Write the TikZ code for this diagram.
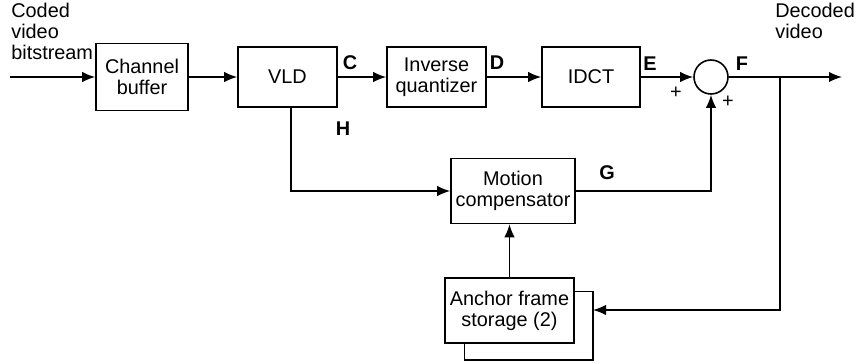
\documentclass[tikz,border=0pt]{standalone}
\usepackage{fontspec}
\setmainfont{Liberation Sans}
\usetikzlibrary{arrows.meta}

\tikzset{
  bloque/.style={draw, line width=0.9pt, minimum width=1.98cm, minimum height=1.2cm, align=center, inner sep=1pt},
  flecha/.style={-{Latex[length=2.6mm,width=2.1mm]}, line width=0.9pt},
  linea/.style={line width=0.9pt},
  letra/.style={font=\bfseries\fontsize{11.3}{12}\selectfont},
  signo/.style={font=\fontsize{11.3}{12}\selectfont, inner sep=0pt}
}

\begin{document}
\begin{tikzpicture}[font=\fontsize{11.3}{12}\selectfont]
        \useasboundingbox (0,0) rectangle (17.14,7.26);

        % Bloques de la cadena principal
        \node[bloque, minimum width=1.84cm, minimum height=1.34cm] (buffer) at (2.84,5.72) {Channel\\buffer};
        \node[bloque] (vld) at (5.75,5.72) {VLD};
        \node[bloque] (iq) at (8.73,5.72) {Inverse\\quantizer};
        \node[bloque, minimum width=1.96cm] (idct) at (11.82,5.72) {IDCT};
        \node[draw, line width=0.9pt, circle, minimum size=0.68cm, inner sep=0pt] (suma) at (14.22,5.72) {};

        % Compensador y memoria
        \node[bloque, minimum width=2.48cm, minimum height=1.3cm] (mc) at (10.26,3.44) {Motion\\compensator};
        \node[bloque, minimum width=2.58cm, minimum height=1.3cm] (anchor) at (10.19,1.05) {Anchor frame\\storage (2)};

        % Puntos auxiliares
        \coordinate (entrada) at (0.2,5.72);
        \coordinate (salida) at (16.84,5.72);
        \coordinate (rama) at (15.6,5.72);
        \coordinate (lazo) at (11.86,1.06);

        % Corriente de entrada y salida
        \draw[flecha] (entrada) -- (buffer);
        \node[anchor=north west, align=left, inner sep=0pt] (txtin) at (0.22,7.2) {Coded\\video\\bitstream};
        \draw[flecha] (suma) -- (salida);
        \node[anchor=north west, align=left, inner sep=0pt] (txtout) at (15.5,7.2) {Decoded\\video};

        % Cadena principal
        \draw[flecha] (buffer) -- (vld);
        \draw[flecha] (vld) -- (iq);
        \draw[flecha] (iq) -- (idct);
        \draw[flecha] (idct) -- (suma);

        % Realimentacion
        \draw[flecha] (vld.south -| 5.82,0) |- (mc.west);
        \draw[flecha] (mc.east) -| (suma.south);
        \draw[flecha] (anchor.north) -- (anchor.north |- mc.south);
        \draw[flecha] (rama) |- (lazo);
        \draw[linea] ([yshift=0.38cm]anchor.east) -| (11.86,0.06) -| ([xshift=-0.9cm]anchor.south);

        % Etiquetas
        \node[letra] (c) at (7.0,6.0) {C};
        \node[letra] (d) at (9.94,6.0) {D};
        \node[letra] (e) at (13.0,5.98) {E};
        \node[letra] (f) at (14.84,5.98) {F};
        \node[letra] (h) at (6.86,4.68) {H};
        \node[letra] (g) at (12.14,3.8) {G};
        \node[signo] (mas1) at (13.52,5.4) {+};
        \node[signo] (mas2) at (14.56,5.22) {+};
\end{tikzpicture}
\end{document}
